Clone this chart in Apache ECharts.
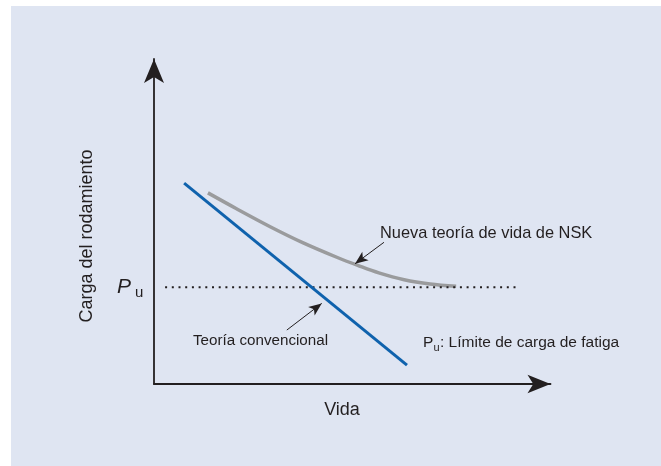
<!DOCTYPE html>
<html>
<head>
<meta charset="utf-8">
<script src="https://cdn.jsdelivr.net/npm/echarts@6/dist/echarts.min.js"></script>
<style>html,body{margin:0;padding:0;background:#fff}#c{width:661px;height:466px}</style>
</head>
<body>
<div id="c"></div>
<script>
// Values (arbitrary units, axes 0..100)
var conventionalX = [7.6, 63.8];
var conventionalY = [61.8, 5.8];
var nskX = [13.6, 20.7, 29.3, 37.5, 46.1, 51.4, 56.7, 63.1, 69.6, 76.2];
var nskY = [58.8, 54.0, 48.4, 43.5, 39.0, 36.5, 34.2, 32.1, 30.8, 30.1];
var puLevel = 29.8;
var puSpanX = [2.8, 92.3];
var arrowNsk = [[58.0, 43.6], [50.7, 37.0]];
var arrowConv = [[33.5, 16.6], [42.3, 24.8]];
var yAxisName = 'Carga del rodamiento';
var xAxisName = 'Vida';
var nskLabel = 'Nueva teoría de vida de NSK';
var convLabel = 'Teoría convencional';
var puLegendRest = ': Límite de carga de fatiga';

function pairs(xs, ys) { return xs.map(function (x, i) { return [x, ys[i]]; }); }

var ink = '#231f20';
var FONT = '"Liberation Sans", Arial, Helvetica, sans-serif';
var chart = echarts.init(document.getElementById('c'), null, {renderer: 'canvas'});

function txt(x, y, text, size, extra) {
  var s = {text: text, fontSize: size, fontFamily: FONT, fill: ink, align: 'left', verticalAlign: 'middle'};
  for (var k in (extra || {})) s[k] = extra[k];
  return {type: 'text', x: x, y: y, style: s, z: 100};
}

var axisCommon = function (sym) {
  return {
    type: 'value', min: 0, max: 100,
    axisLine: {show: true, symbol: ['none', 'arrow'], symbolSize: sym, lineStyle: {color: ink, width: 1.8}},
    axisTick: {show: false}, axisLabel: {show: false}, splitLine: {show: false}
  };
};

var option = {
  animation: false,
  backgroundColor: '#dfe5f2',
  grid: {left: 154, top: 59, right: 110.5, bottom: 82, containLabel: false},
  xAxis: axisCommon([14, 23]),
  yAxis: axisCommon([15, 24]),
  series: [
    {
      type: 'line', data: pairs(nskX, nskY), smooth: 0.35, showSymbol: false, silent: true,
      lineStyle: {color: '#9a9b9d', width: 3.5}, z: 2
    },
    {
      type: 'line', data: [[puSpanX[0], puLevel], [puSpanX[1], puLevel]], showSymbol: false, silent: true,
      lineStyle: {color: ink, width: 2, type: [2, 4.7], cap: 'butt'}, z: 3
    },
    {
      type: 'line', data: pairs(conventionalX, conventionalY), showSymbol: false, silent: true,
      lineStyle: {color: '#0f62ad', width: 3}, z: 4
    },
    {
      type: 'line', data: [], silent: true, z: 5,
      markLine: {
        silent: true, symbol: ['none', 'arrow'], symbolSize: [8, 13],
        label: {show: false},
        lineStyle: {color: ink, width: 1, type: 'solid'},
        emphasis: {disabled: true},
        data: [
          [{coord: arrowNsk[0]}, {coord: arrowNsk[1]}],
          [{coord: arrowConv[0]}, {coord: arrowConv[1]}]
        ]
      }
    }
  ],
  graphic: [
    {type: 'rect', shape: {x: 0, y: 0, width: 661, height: 6}, style: {fill: '#ffffff'}, z: 100},
    {type: 'rect', shape: {x: 0, y: 0, width: 11, height: 466}, style: {fill: '#ffffff'}, z: 100},
    txt(87, 236, yAxisName, 18, {align: 'center'}),
    txt(342, 410, xAxisName, 18, {align: 'center'}),
    txt(380, 233, nskLabel, 16.4),
    txt(193, 341, convLabel, 15.2),
    txt(423, 343, 'P', 15.5),
    txt(433.5, 347.5, 'u', 11),
    txt(440, 343, puLegendRest, 15.5),
    txt(117, 287, 'P', 21, {fontStyle: 'italic'}),
    txt(135, 293, 'u', 15)
  ]
};
option.graphic[2].rotation = Math.PI / 2;
chart.setOption(option);
</script>
</body>
</html>
